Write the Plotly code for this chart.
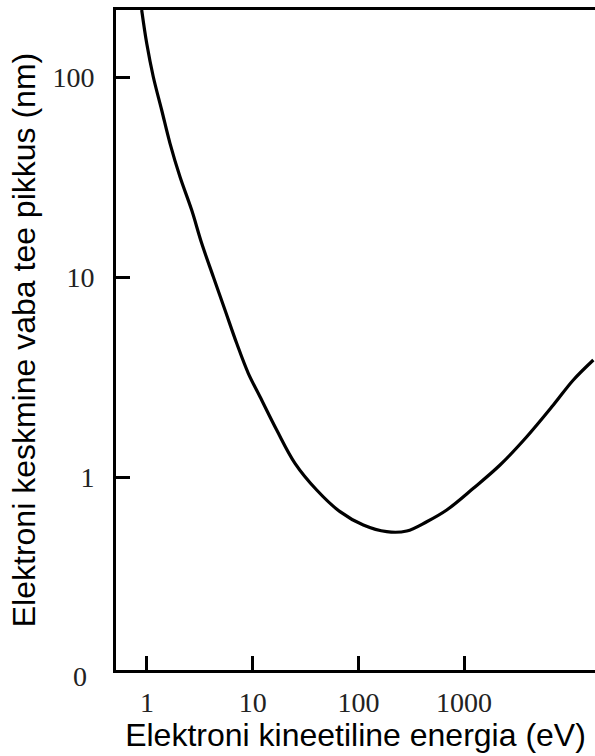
import plotly.graph_objects as go

# Electron kinetic energy (eV) and inelastic mean free path (nm)
energy_ev = [0.891, 0.994, 1.147, 1.377, 1.651, 2.052, 2.648, 3.293, 4.240, 5.470,
             7.058, 9.086, 11.73, 16.87, 25.13, 40.32, 66.96, 111.3, 185.2, 286.3,
             442.9, 684.5, 1222, 2186, 3912, 6982, 10790, 16690]
mfp_nm = [216.3, 147.4, 100.3, 68.4, 46.6, 31.7, 21.6, 14.74, 10.03, 6.84,
          4.66, 3.30, 2.52, 1.718, 1.171, 0.861, 0.671, 0.575, 0.5327, 0.537,
          0.5976, 0.684, 0.878, 1.148, 1.590, 2.291, 3.055, 3.846]

x_tick_vals = [1, 10, 100, 1000]
x_tick_text = ["1", "10", "100", "1000"]
y_tick_vals = [1, 10, 100]
y_tick_text = ["1", "10", "100"]

x_title = "Elektroni kineetiline energia (eV)"
y_title = "Elektroni keskmine vaba tee pikkus (nm)"

fig = go.Figure()
fig.add_trace(go.Scatter(
    x=energy_ev, y=mfp_nm, mode="lines",
    line=dict(color="black", width=3.2, shape="spline", smoothing=1.0),
    showlegend=False, hoverinfo="skip",
))

serif = "Liberation Serif, Times New Roman, serif"
sans = "Liberation Sans, Arial, sans-serif"

fig.update_layout(
    width=595, height=756,
    margin=dict(l=116, r=0, t=10, b=86),
    paper_bgcolor="white", plot_bgcolor="white",
    xaxis=dict(
        type="log", range=[-0.293, 4.238],
        tickvals=x_tick_vals, ticktext=x_tick_text,
        ticks="inside", ticklen=14, tickwidth=2.5, tickcolor="black",
        showline=True, linecolor="black", linewidth=2.8, mirror=True,
        showgrid=False, zeroline=False,
        tickfont=dict(family=serif, size=28, color="#222"),
        ticklabelstandoff=5,
        title=dict(text=x_title, font=dict(family=sans, size=32, color="black"), standoff=4),
    ),
    yaxis=dict(
        type="log", range=[-0.965, 2.335],
        tickvals=y_tick_vals, ticktext=y_tick_text,
        ticks="inside", ticklen=14, tickwidth=2.5, tickcolor="black",
        showline=True, linecolor="black", linewidth=2.8, mirror=False,
        showgrid=False, zeroline=False,
        tickfont=dict(family=serif, size=28, color="#222"),
        ticklabelstandoff=13,
        title=dict(text=y_title, font=dict(family=sans, size=32, color="black"), standoff=8),
    ),
)

fig.add_annotation(
    xref="paper", yref="paper", x=0, y=0, xanchor="right", yanchor="middle",
    xshift=-27, yshift=-6, text="0", showarrow=False,
    font=dict(family=serif, size=28, color="#222"),
)

fig.write_html("out.html")
